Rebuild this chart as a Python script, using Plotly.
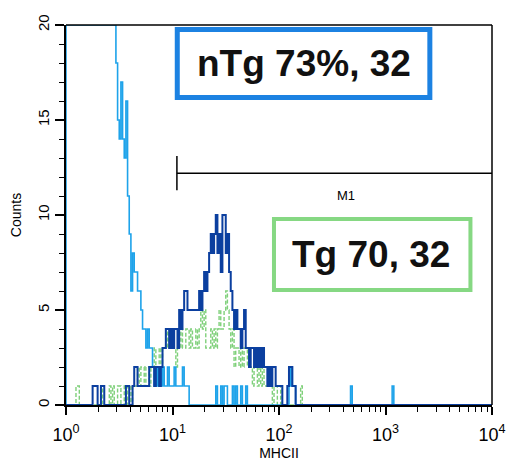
import plotly.graph_objects as go

# Cytometer histogram: 256 channels over 4 log decades (64 channels per decade)
CHANNELS_PER_DECADE = 64
N_CHANNELS = 256

# Isotype control (light blue): counts from channel 0; channels 0-29 are off-scale (pinned at 20)
iso_start = 0
iso_counts = [20, 20, 20, 20, 20, 20, 20, 20, 20, 20,
              20, 20, 20, 20, 20, 20, 20, 20, 20, 20,
              20, 20, 20, 20, 20, 20, 20, 20, 20, 20,
              18, 15, 14, 17, 14, 13, 16, 11, 9, 6,
              8, 7, 7, 6, 6, 5, 4, 4, 3, 4,
              3, 3, 2, 1, 2, 1, 2, 1, 2, 1,
              1, 2, 1, 1, 1, 2, 1, 1, 1, 1,
              2, 1, 1, 1, 0]
iso_extra_ch = [90, 93, 95, 96, 100, 102, 105, 108, 134, 135, 136, 137, 171, 196]
iso_extra_n = [1, 1, 1, 1, 1, 1, 1, 1, 1, 2, 1, 1, 1, 1]

# nTg MHCII staining (dark blue)
ntg_start = 36
ntg_counts = [1, 1, 0, 0, 1, 2, 2, 1, 1, 1,
              1, 1, 1, 1, 2, 2, 2, 1, 2, 2,
              1, 2, 3, 3, 4, 4, 3, 4, 3, 4,
              4, 3, 5, 4, 5, 6, 6, 5, 5, 5,
              5, 5, 5, 5, 6, 5, 6, 7, 6, 7,
              8, 9, 8, 9, 10, 8, 9, 7, 10, 10,
              8, 9, 7, 6, 5, 4, 5, 4, 4, 3,
              4, 5, 3, 3, 2, 3, 3, 2, 3, 2,
              3, 2, 3, 2, 2, 1, 2, 1, 2, 2,
              1, 1, 1, 1, 0, 0, 0, 1, 2, 2,
              1, 1, 0]
ntg_extra_ch = [16, 17, 18, 21, 22]
ntg_extra_n = [1, 1, 1, 1, 1]

# Tg MHCII staining (green)
tg_start = 35
tg_counts = [1, 0, 1, 1, 0, 1, 1, 1, 2, 1,
             2, 2, 1, 2, 2, 1, 2, 2, 3, 2,
             2, 3, 2, 3, 3, 4, 3, 4, 3, 4,
             3, 2, 3, 3, 4, 3, 3, 4, 4, 3,
             4, 3, 3, 4, 3, 4, 5, 4, 5, 3,
             3, 3, 4, 3, 4, 3, 4, 5, 4, 4,
             5, 6, 5, 4, 3, 4, 2, 3, 3, 2,
             3, 2, 3, 3, 2, 2, 2, 1, 2, 2,
             1, 2, 1, 2, 1, 1, 1, 1, 1, 0,
             1, 1, 0, 0, 1, 0]
tg_extra_ch = [6, 7, 21, 26, 28, 31, 32, 141]
tg_extra_n = [1, 1, 1, 1, 1, 1, 1, 1]

# M1 gate (MHCII range) and the count level where its marker sits
m1_range = [11, 10000]
m1_level = 12.2

ISO_COLOR = "#1ea3ea"
NTG_COLOR = "#0b3f9f"
TG_COLOR = "#7fd07a"
FONT = "Liberation Sans, Arial, Helvetica, sans-serif"


def channel_histogram(start, counts, extra_ch, extra_n):
    dense = [0] * N_CHANNELS
    for i, c in enumerate(counts):
        dense[start + i] = c
    for ch, n in zip(extra_ch, extra_n):
        dense[ch] = n
    edges = [10 ** (ch / CHANNELS_PER_DECADE) for ch in range(N_CHANNELS + 1)]
    # start on the baseline so the outline rises from zero at the first edge
    xs = [edges[0]] + edges
    ys = [0] + dense + [0]
    return xs, ys


fig = go.Figure()

for name, (start, counts, ech, en), color, dash, width in [
    ("Tg", (tg_start, tg_counts, tg_extra_ch, tg_extra_n), TG_COLOR, "4px,2px", 1.4),
    ("Isotype", (iso_start, iso_counts, iso_extra_ch, iso_extra_n), ISO_COLOR, "solid", 1.6),
    ("nTg", (ntg_start, ntg_counts, ntg_extra_ch, ntg_extra_n), NTG_COLOR, "solid", 2.0),
]:
    xs, ys = channel_histogram(start, counts, ech, en)
    fig.add_trace(go.Scatter(
        x=xs, y=ys, mode="lines", name=name,
        line=dict(color=color, width=width, shape="hv", dash=dash),
        showlegend=False, hoverinfo="skip",
    ))

decades = [1, 10, 100, 1000, 10000]
minor_vals = [m * d for d in [1, 10, 100, 1000] for m in range(2, 10)]

fig.update_xaxes(
    type="log", range=[0, 4], automargin=False,
    tickmode="array", tickvals=decades,
    ticktext=["10<sup>0</sup>", "10<sup>1</sup>", "10<sup>2</sup>", "10<sup>3</sup>", "10<sup>4</sup>"],
    ticks="outside", ticklen=8, tickwidth=1.5, tickcolor="black",
    minor=dict(tickmode="array", tickvals=minor_vals, ticks="outside",
               ticklen=5, tickwidth=1.2, tickcolor="black"),
    showline=True, linecolor="black", linewidth=2,
    showgrid=False, zeroline=False,
    tickfont=dict(family=FONT, size=18, color="black"),
    ticklabelstandoff=4,
    title=dict(text="MHCII", font=dict(family=FONT, size=14, color="black"), standoff=4),
)
fig.update_yaxes(
    range=[0, 20], automargin=False,
    tickmode="array", tickvals=[0, 5, 10, 15, 20],
    tickangle=-90,
    ticks="outside", ticklen=9, tickwidth=1.5, tickcolor="black",
    minor=dict(dtick=1, ticks="outside", ticklen=5, tickwidth=1.2, tickcolor="black"),
    showline=True, linecolor="black", linewidth=2,
    showgrid=False, zeroline=False,
    tickfont=dict(family=FONT, size=15, color="black"),
    title=dict(text="Counts", font=dict(family=FONT, size=14, color="black"), standoff=10),
)

shapes = [
    # top and right frame
    dict(type="line", xref="paper", yref="paper", x0=0, x1=1, y0=1, y1=1,
         line=dict(color="black", width=1.5)),
    dict(type="line", xref="paper", yref="paper", x0=1, x1=1, y0=0, y1=1,
         line=dict(color="black", width=1.5)),
]

# M1 gate marker
shapes += [
    dict(type="line", xref="x", yref="y", x0=m1_range[0], x1=m1_range[1], y0=m1_level, y1=m1_level,
         line=dict(color="black", width=1.5)),
    dict(type="line", xref="x", yref="y", x0=m1_range[0], x1=m1_range[0],
         y0=m1_level - 0.9, y1=m1_level + 0.9,
         line=dict(color="black", width=1.5)),
]

# labelled boxes
shapes += [
    dict(type="rect", xref="paper", yref="paper", x0=0.2612, x1=0.8541, y0=0.8092, y1=0.9882,
         line=dict(color="#1c82e2", width=5), fillcolor="white", layer="above"),
    dict(type="rect", xref="paper", yref="paper", x0=0.4882, x1=0.9494, y0=0.3026, y1=0.4895,
         line=dict(color="#86d883", width=4), fillcolor="white", layer="above"),
]

annotations = [
    dict(text="M1", x=2.63, y=m1_level - 1.15, xref="x", yref="y", showarrow=False,
         xanchor="center", yanchor="middle",
         font=dict(family=FONT, size=13, color="black")),
    dict(text="<b>nTg 73%, 32</b>", x=0.5576, y=0.8987, xref="paper", yref="paper",
         xanchor="center", yanchor="middle",
         showarrow=False, font=dict(family=FONT, size=37, color="#111111")),
    dict(text="<b>Tg 70, 32</b>", x=0.7165, y=0.396, xref="paper", yref="paper",
         xanchor="center", yanchor="middle",
         showarrow=False, font=dict(family=FONT, size=37, color="#111111")),
]

fig.update_layout(
    width=508, height=463,
    margin=dict(l=66, r=16, t=25, b=58),
    paper_bgcolor="white", plot_bgcolor="white",
    shapes=shapes, annotations=annotations,
    font=dict(family=FONT, color="black"),
)

fig.write_html("out.html")
